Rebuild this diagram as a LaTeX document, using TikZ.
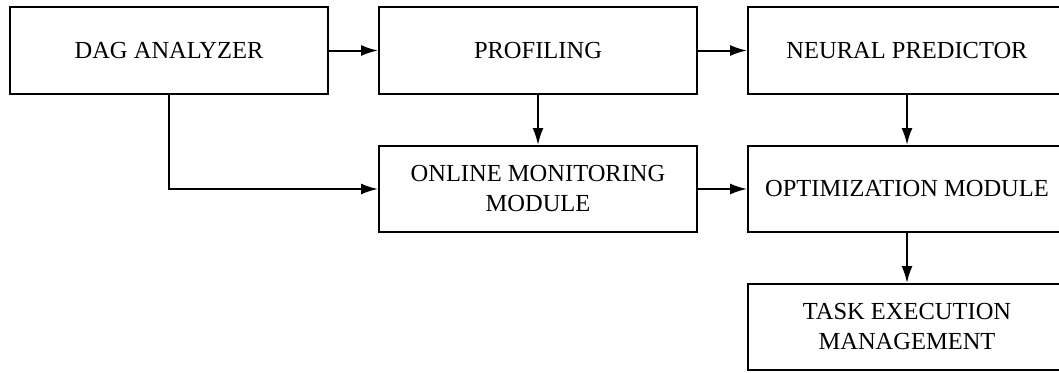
\documentclass[tikz,border=0pt]{standalone}
\usepackage{fontspec}
\setmainfont{Liberation Serif}
\usetikzlibrary{arrows.meta}
\begin{document}
\begin{tikzpicture}[x=1pt,y=-1pt,
  box/.style={draw=black, line width=2pt, minimum width=318pt, inner sep=0pt,
    align=center, font=\fontsize{24.5}{30}\selectfont},
  conn/.style={line width=2pt, -{Latex[length=17pt,width=11pt]}}]
\clip (0,0) rectangle (1059,372);
\fill[white] (0,0) rectangle (1059,372);
\node[box, minimum height=87pt] (dag) at (169,50.5) {DAG ANALYZER};
\node[box, minimum height=87pt] (prof) at (538,50.5) {PROFILING};
\node[box, minimum height=87pt] (neur) at (907,50.5) {NEURAL PREDICTOR};
\node[box, minimum height=86pt] (onl) at (538,189) {ONLINE MONITORING\\MODULE};
\node[box, minimum height=86pt] (opt) at (907,189) {OPTIMIZATION MODULE};
\node[box, minimum height=86pt] (task) at (907,327) {TASK EXECUTION\\MANAGEMENT};
\draw[conn] (dag.east) -- (prof.west);
\draw[conn] (prof.east) -- (neur.west);
\draw[conn] (prof.south) -- (onl.north);
\draw[conn] (neur.south) -- (opt.north);
\draw[conn] (dag.south) |- (onl.west);
\draw[conn] (onl.east) -- (opt.west);
\draw[conn] (opt.south) -- (task.north);
\end{tikzpicture}
\end{document}
